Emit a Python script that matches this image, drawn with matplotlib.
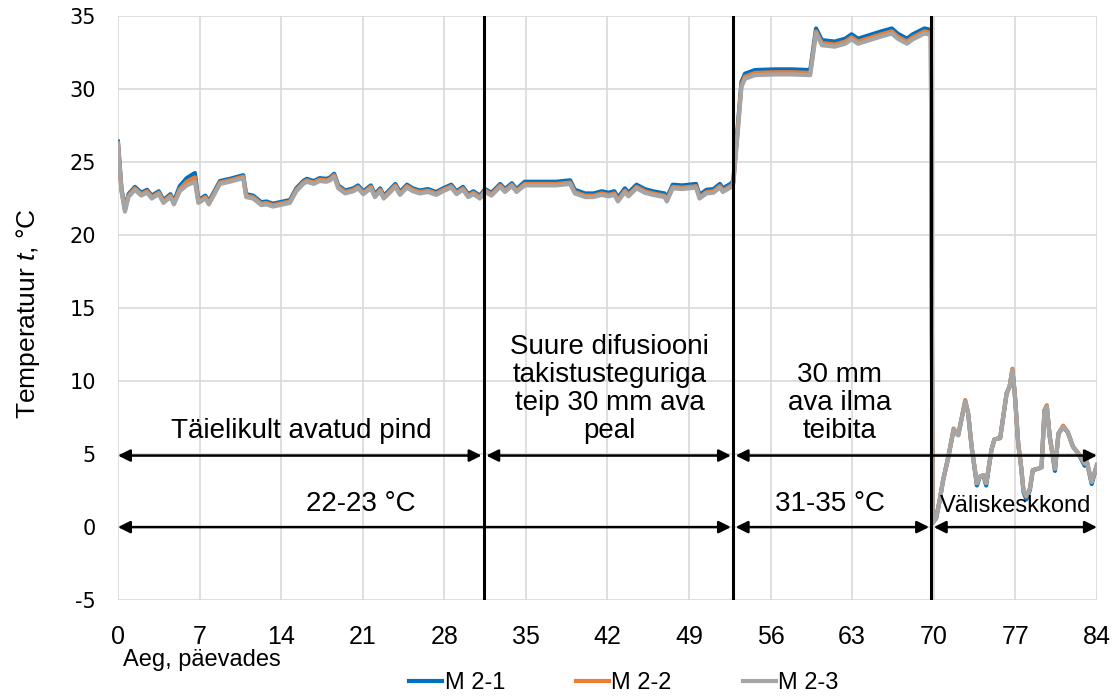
import matplotlib
matplotlib.use("Agg")
import matplotlib.pyplot as plt

# --- measured temperatures, three sensors ---
days = [
    0.0, 0.3, 0.6, 0.9, 1.46, 2.0, 2.5, 2.9, 3.5, 3.9,
    4.5, 4.8, 5.3, 5.9, 6.6, 6.9, 7.5, 7.8, 8.75, 9.6,
    10.75, 11.0, 11.6, 12.3, 12.75, 13.3, 13.9, 14.76, 15.3, 15.9,
    16.2, 16.8, 17.3, 17.9, 18.2, 18.55, 18.9, 19.5, 20.2, 20.6,
    21.05, 21.7, 22.05, 22.5, 22.8, 23.2, 23.8, 24.2, 24.8, 25.3,
    25.9, 26.6, 27.3, 27.9, 28.6, 29.05, 29.6, 30.05, 30.5, 31.05,
    31.5, 32.05, 32.8, 33.2, 33.8, 34.2, 34.9, 36.2, 37.6, 38.8,
    39.2, 40.1, 40.8, 41.5, 42.1, 42.6, 42.9, 43.5, 43.8, 44.5,
    45.2, 45.9, 46.9, 47.1, 47.6, 48.4, 49.6, 49.9, 50.5, 51.1,
    51.65, 51.9, 52.65, 52.8, 53.2, 53.5, 53.8, 54.65, 56.4, 57.8,
    59.4, 59.65, 59.9, 60.4, 61.5, 62.4, 62.95, 63.5, 64.7, 65.5,
    66.4, 66.9, 67.7, 68.2, 69.2, 69.75, 69.9, 70.2, 70.5, 70.8,
    71.25, 71.7, 72.1, 72.7, 72.95, 73.25, 73.7, 73.95, 74.25, 74.5,
    74.95, 75.2, 75.7, 76.25, 76.5, 76.75, 76.95, 77.25, 77.5, 77.7,
    77.95, 78.25, 78.5, 78.95, 79.25, 79.5, 79.7, 79.95, 80.4, 80.7,
    81.1, 81.5, 81.95, 82.4, 82.95, 83.1, 83.55, 84.0,
]

m21 = [
    26.4, 23.2, 21.8, 22.8, 23.3, 22.9, 23.1, 22.7, 23.0, 22.4,
    22.8, 22.3, 23.35, 23.9, 24.25, 22.4, 22.7, 22.3, 23.7, 23.85,
    24.1, 22.8, 22.7, 22.25, 22.3, 22.15, 22.25, 22.4, 23.2, 23.7,
    23.85, 23.7, 23.9, 23.85, 23.95, 24.2, 23.4, 23.05, 23.2, 23.4,
    23.0, 23.4, 22.8, 23.2, 22.7, 23.0, 23.5, 22.95, 23.45, 23.2,
    23.05, 23.15, 22.95, 23.2, 23.45, 23.0, 23.3, 22.8, 23.0, 22.7,
    23.15, 22.9, 23.5, 23.15, 23.55, 23.15, 23.65, 23.65, 23.65, 23.75,
    23.1, 22.85, 22.85, 23.0, 22.9, 23.0, 22.55, 23.2, 22.9, 23.45,
    23.15, 23.0, 22.85, 22.55, 23.45, 23.4, 23.5, 22.75, 23.1, 23.15,
    23.5, 23.2, 23.55, 23.75, 27.6, 30.5, 31.05, 31.3, 31.35, 31.35,
    31.3, 32.75, 34.15, 33.35, 33.25, 33.45, 33.75, 33.45, 33.75, 33.95,
    34.15, 33.8, 33.45, 33.75, 34.15, 34.05, 0.3, 0.6, 1.8, 3.2,
    4.8, 6.65, 6.3, 8.6, 7.8, 5.5, 2.85, 3.45, 3.55, 2.85,
    5.3, 6.0, 6.1, 9.15, 9.6, 10.75, 9.15, 5.7, 4.1, 2.4,
    1.9, 2.55, 3.9, 4.0, 4.1, 8.0, 8.25, 6.2, 3.85, 6.4,
    6.85, 6.5, 5.5, 5.05, 4.2, 4.6, 2.95, 4.25,
]

m22 = [
    26.3, 23.1, 21.7, 22.7, 23.2, 22.8, 23.0, 22.6, 22.9, 22.3,
    22.7, 22.2, 23.15, 23.65, 23.95, 22.3, 22.6, 22.2, 23.6, 23.75,
    24.0, 22.7, 22.6, 22.15, 22.2, 22.05, 22.15, 22.3, 23.1, 23.6,
    23.75, 23.6, 23.8, 23.75, 23.85, 24.1, 23.3, 22.95, 23.1, 23.3,
    22.9, 23.3, 22.7, 23.1, 22.6, 22.9, 23.4, 22.85, 23.35, 23.1,
    22.95, 23.05, 22.85, 23.1, 23.35, 22.9, 23.2, 22.7, 22.9, 22.6,
    23.05, 22.8, 23.4, 23.05, 23.45, 23.05, 23.5, 23.5, 23.5, 23.6,
    22.95, 22.7, 22.7, 22.85, 22.75, 22.85, 22.4, 23.05, 22.75, 23.3,
    23.0, 22.85, 22.7, 22.4, 23.3, 23.25, 23.35, 22.6, 22.95, 23.0,
    23.35, 23.05, 23.4, 23.6, 27.4, 30.3, 30.85, 31.1, 31.15, 31.15,
    31.1, 32.55, 33.95, 33.15, 33.05, 33.25, 33.55, 33.25, 33.55, 33.75,
    33.95, 33.6, 33.25, 33.55, 33.95, 33.85, 0.3, 0.6, 1.8, 3.2,
    4.8, 6.75, 6.3, 8.7, 7.8, 5.5, 3.0, 3.45, 3.55, 3.0,
    5.3, 6.0, 6.1, 9.15, 9.6, 10.85, 9.15, 5.7, 4.1, 2.5,
    2.1, 2.65, 3.9, 4.0, 4.1, 8.0, 8.35, 6.2, 4.0, 6.4,
    6.95, 6.5, 5.5, 5.05, 4.35, 4.6, 3.1, 4.25,
]

m23 = [
    26.2, 23.0, 21.6, 22.6, 23.1, 22.7, 22.9, 22.5, 22.8, 22.2,
    22.6, 22.1, 23.0, 23.4, 23.65, 22.2, 22.5, 22.1, 23.5, 23.65,
    23.9, 22.6, 22.5, 22.05, 22.1, 21.95, 22.05, 22.2, 23.0, 23.5,
    23.65, 23.5, 23.7, 23.65, 23.75, 24.0, 23.2, 22.85, 23.0, 23.2,
    22.8, 23.2, 22.6, 23.0, 22.5, 22.8, 23.3, 22.75, 23.25, 23.0,
    22.85, 22.95, 22.75, 23.0, 23.25, 22.8, 23.1, 22.6, 22.8, 22.5,
    22.95, 22.7, 23.3, 22.95, 23.35, 22.95, 23.4, 23.4, 23.4, 23.5,
    22.85, 22.6, 22.6, 22.75, 22.65, 22.75, 22.3, 22.95, 22.65, 23.2,
    22.9, 22.75, 22.6, 22.3, 23.2, 23.15, 23.25, 22.5, 22.85, 22.9,
    23.25, 22.95, 23.3, 23.5, 27.2, 30.15, 30.7, 30.95, 31.0, 31.0,
    30.95, 32.4, 33.8, 33.0, 32.9, 33.1, 33.4, 33.1, 33.4, 33.6,
    33.8, 33.45, 33.1, 33.4, 33.8, 33.7, 0.3, 0.6, 1.8, 3.2,
    4.8, 6.65, 6.3, 8.6, 7.8, 5.5, 3.0, 3.45, 3.55, 3.0,
    5.3, 6.0, 6.1, 9.15, 9.6, 10.75, 9.15, 5.7, 4.1, 2.5,
    2.1, 2.65, 3.9, 4.0, 4.1, 8.0, 8.25, 6.2, 4.0, 6.4,
    6.85, 6.5, 5.5, 5.05, 4.35, 4.6, 3.1, 4.25,
]

series_names = ["M 2-1", "M 2-2", "M 2-3"]
series_colors = ["#0070C0", "#ED7D31", "#A5A5A5"]

# phase boundaries (days) and the arrows/labels that describe them
phase_lines = [31.4, 52.8, 69.8]
upper_spans = [(0, 31.2), (31.6, 52.6), (53.0, 84)]
upper_texts = ["Täielikult avatud pind",
               "Suure difusiooni\ntakistusteguriga\nteip 30 mm ava\npeal",
               "30 mm\nava ilma\nteibita"]
lower_spans = [(0, 52.6), (53.0, 69.6), (70.0, 84)]
lower_texts = ["22-23 °C", "31-35 °C", "Väliskeskkond"]

plt.rcParams["axes.unicode_minus"] = False
plt.rcParams["mathtext.fontset"] = "custom"
plt.rcParams["mathtext.rm"] = "Liberation Sans"
plt.rcParams["mathtext.it"] = "Liberation Sans:italic"

fig = plt.figure(figsize=(11.16, 6.97), dpi=100)
ax = fig.add_axes([0.1057, 0.139, 0.8772, 0.838])

for vals, name, col in zip([m21, m22, m23], series_names, series_colors):
    ax.plot(days, vals, color=col, lw=3.0, label=name, solid_joinstyle="round")

for x in phase_lines:
    ax.axvline(x, color="black", lw=2.2, zorder=4)

arrow_kw = dict(arrowstyle="<|-|>", color="black", lw=1.8,
                mutation_scale=18, shrinkA=0, shrinkB=0)
for (x0, x1) in upper_spans:
    ax.annotate("", xy=(x1, 4.9), xytext=(x0, 4.9), arrowprops=arrow_kw, zorder=5)
for (x0, x1) in lower_spans:
    ax.annotate("", xy=(x1, 0), xytext=(x0, 0), arrowprops=arrow_kw, zorder=5)

txt_font = dict(family="Liberation Sans", fontsize=20, color="black")
ax.text(15.7, 5.7, upper_texts[0], ha="center", va="bottom", **txt_font)
ax.text(42.2, 5.7, upper_texts[1], ha="center", va="bottom",
        linespacing=1.1, **txt_font)
ax.text(61.9, 5.7, upper_texts[2], ha="center", va="bottom",
        linespacing=1.1, **txt_font)
ax.text(20.8, 0.7, lower_texts[0], ha="center", va="bottom", **txt_font)
ax.text(61.1, 0.7, lower_texts[1], ha="center", va="bottom", **txt_font)
ax.text(77.0, 0.7, lower_texts[2], ha="center", va="bottom",
        family="Liberation Sans", fontsize=17)

ax.set_xlim(0, 84)
ax.set_ylim(-5, 35)
ax.set_xticks(range(0, 85, 7))
ax.set_yticks(range(-5, 36, 5))
ax.grid(True, color="#d9d9d9", lw=1.2)
ax.set_axisbelow(True)
for s in ax.spines.values():
    s.set_visible(False)
ax.tick_params(length=0)
ax.tick_params(axis="y", pad=16)
ax.tick_params(axis="x", pad=18)
for lab in ax.get_yticklabels():
    lab.set_fontfamily("DejaVu Sans")
    lab.set_fontsize(15)
for lab in ax.get_xticklabels():
    lab.set_fontfamily("Liberation Sans")
    lab.set_fontsize(18)

fig.text(0.025, 0.55, "Temperatuur $t$, °C", rotation=90, ha="center",
         va="center", family="Liberation Sans", fontsize=19)
fig.text(0.11, 0.053, "Aeg, päevades", ha="left", va="center",
         family="Liberation Sans", fontsize=17)

fig.legend(loc="center", bbox_to_anchor=(0.559, 0.02), ncol=3, frameon=False,
           handlelength=1.4, handletextpad=0.1, columnspacing=3.0,
           prop=dict(family="Liberation Sans", size=17))

fig.savefig("out.png", dpi=100)
